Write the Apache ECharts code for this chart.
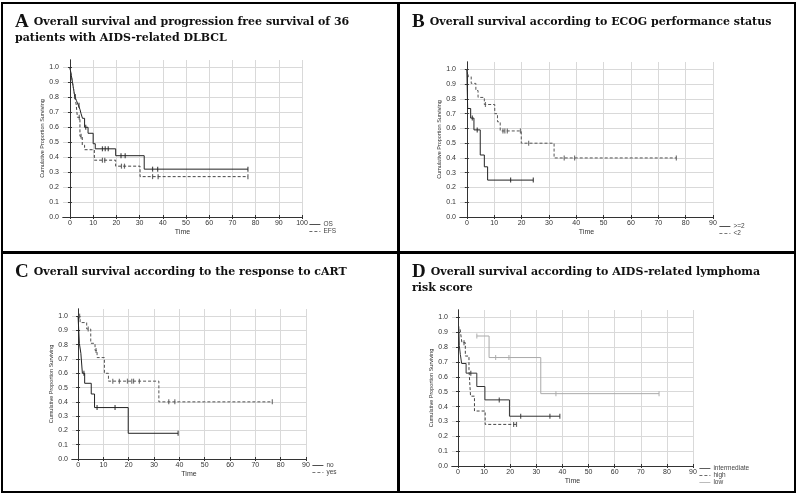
<!DOCTYPE html>
<html>
<head>
<meta charset="utf-8">
<script src="https://cdn.jsdelivr.net/npm/echarts@6/dist/echarts.min.js"></script>
<style>
html, body { margin: 0; padding: 0; background: #fff; }
#chart { width: 800px; height: 499px; }
</style>
</head>
<body>
<div id="chart"></div>
<script>
// tick labels
const xTicks100 = [0, 10, 20, 30, 40, 50, 60, 70, 80, 90, 100]
const xTicks90 = [0, 10, 20, 30, 40, 50, 60, 70, 80, 90]
const yTicks = [0, 0.1, 0.2, 0.3, 0.4, 0.5, 0.6, 0.7, 0.8, 0.9, 1.0]

// A - OS / EFS
const osTime = [0, 0.3, 0.6, 0.9, 1.2, 1.5, 1.8, 2.1, 2.8, 3.6, 4.3, 4.8, 5.4, 6.3, 7.8, 10.0, 10.9, 19.7, 32.0, 76.7]
const osSurv = [1.0, 0.972, 0.944, 0.917, 0.889, 0.861, 0.833, 0.806, 0.778, 0.748, 0.72, 0.69, 0.66, 0.60, 0.56, 0.49, 0.456, 0.41, 0.32, 0.32]
const osCens = [2.2, 3.9, 6.8, 14.0, 15.2, 16.5, 22.0, 23.8, 35.6, 37.8, 76.7]
const efsTime = [0, 0.3, 0.6, 0.9, 1.2, 1.5, 1.8, 2.1, 2.7, 3.2, 4.3, 5.3, 6.3, 10.5, 19.7, 30.2, 76.7]
const efsSurv = [1.0, 0.972, 0.944, 0.917, 0.889, 0.861, 0.833, 0.806, 0.75, 0.667, 0.54, 0.48, 0.45, 0.38, 0.34, 0.27, 0.27]
const efsCens = [2.2, 4.0, 4.8, 14.0, 15.0, 22.2, 23.5, 35.6, 38.0, 76.7]

// B - ECOG
const ge2Time = [0, 0.3, 1.4, 2.6, 4.9, 6.4, 7.6, 24.3]
const ge2Surv = [1.0, 0.735, 0.67, 0.59, 0.42, 0.34, 0.25, 0.25]
const ge2Cens = [2.0, 3.8, 16.0, 24.3]
const lt2Time = [0, 0.6, 1.6, 3.3, 4.1, 6.4, 10.2, 11.2, 12.2, 19.9, 31.9, 76.6]
const lt2Surv = [1.0, 0.95, 0.905, 0.857, 0.81, 0.762, 0.70, 0.645, 0.583, 0.50, 0.40, 0.40]
const lt2Cens = [6.8, 13.2, 13.9, 14.8, 19.6, 22.6, 35.6, 39.4, 76.6]

// C - cART response
const noTime = [0, 0.5, 1.1, 1.7, 2.6, 5.2, 6.5, 19.8, 39.5]
const noSurv = [1.0, 0.81, 0.74, 0.60, 0.53, 0.455, 0.36, 0.18, 0.18]
const noCens = [2.3, 7.5, 14.6, 39.5]
const yesTime = [0, 0.8, 3.4, 5.0, 6.7, 7.5, 10.4, 12.0, 31.9, 76.7]
const yesSurv = [1.0, 0.955, 0.91, 0.81, 0.76, 0.71, 0.60, 0.545, 0.40, 0.40]
const yesCens = [0.6, 4.0, 7.1, 13.7, 16.3, 19.5, 21.2, 21.9, 24.2, 35.8, 38.2, 76.7]

// D - risk score
const intTime = [0.3, 0.5, 0.9, 1.4, 3.1, 7.2, 10.3, 19.7, 39.0]
const intSurv = [0.94, 0.81, 0.75, 0.69, 0.625, 0.535, 0.445, 0.335, 0.335]
const intCens = [4.9, 15.8, 24.0, 35.2, 39.0]
const highTime = [0.8, 1.5, 2.8, 4.2, 4.8, 6.3, 10.4, 22.4]
const highSurv = [0.92, 0.83, 0.74, 0.65, 0.47, 0.37, 0.28, 0.28]
const highCens = [2.3, 21.3, 22.4]
const lowTime = [7.2, 11.9, 31.7, 77.0]
const lowSurv = [0.875, 0.73, 0.487, 0.487]
const lowCens = [7.2, 14.4, 19.5, 37.5, 77.0]

const panels = [
  {
    grid: { left: 63, top: 60, width: 239, height: 157 }, xMin: -3, xMax: 100, xTicks: xTicks100,
    legend: { left: 309, top: 221 },
    curves: [
      { name: 'OS', t: osTime, s: osSurv, c: osCens, color: '#222', dash: false },
      { name: 'EFS', t: efsTime, s: efsSurv, c: efsCens, color: '#444', dash: true }
    ]
  },
  {
    grid: { left: 460, top: 62, width: 253, height: 155 }, xMin: -2.5, xMax: 90, xTicks: xTicks90,
    legend: { left: 719, top: 223 },
    curves: [
      { name: '>=2', t: ge2Time, s: ge2Surv, c: ge2Cens, color: '#222', dash: false },
      { name: '<2', t: lt2Time, s: lt2Surv, c: lt2Cens, color: '#555', dash: true }
    ]
  },
  {
    grid: { left: 72, top: 309, width: 234, height: 150 }, xMin: -2.4, xMax: 90, xTicks: xTicks90,
    legend: { left: 312, top: 462 },
    curves: [
      { name: 'no', t: noTime, s: noSurv, c: noCens, color: '#222', dash: false },
      { name: 'yes', t: yesTime, s: yesSurv, c: yesCens, color: '#555', dash: true }
    ]
  },
  {
    grid: { left: 452, top: 310, width: 241, height: 156 }, xMin: -2.3, xMax: 90, xTicks: xTicks90,
    legend: { left: 699, top: 465 },
    curves: [
      { name: 'intermediate', t: intTime, s: intSurv, c: intCens, color: '#333', dash: false },
      { name: 'high', t: highTime, s: highSurv, c: highCens, color: '#444', dash: true },
      { name: 'low', t: lowTime, s: lowSurv, c: lowCens, color: '#aaa', dash: false }
    ]
  }
]

const titles = [
  { left: 15, top: 13, text: '{a|A} {b|Overall survival and progression free survival of 36}\n{b|patients with AIDS-related DLBCL}' },
  { left: 412, top: 13, text: '{a|B} {b|Overall survival according to ECOG performance status}' },
  { left: 15, top: 263, text: '{a|C} {b|Overall survival according to the response to cART}' },
  { left: 412, top: 263, text: '{a|D} {b|Overall survival according to AIDS-related lymphoma}\n{b|risk score}' }
]

function stepData(t, s) {
  return t.map((v, i) => [v, s[i]])
}
// survival at censor time
function censorData(c, t, s) {
  return c.map(v => {
    let k = 0
    for (let i = 0; i < t.length; i++) if (t[i] <= v + 1e-9) k = i
    return [v, s[k]]
  })
}

const labelFont = { fontFamily: 'Liberation Sans', fontSize: 7, color: '#333' }
const option = {
  animation: false,
  backgroundColor: '#fff',
  title: titles.map(t => ({
    text: t.text, left: t.left, top: t.top, padding: 0,
    textStyle: {
      rich: {
        a: { fontFamily: 'Liberation Serif', fontSize: 19, fontWeight: 'bold', color: '#111', lineHeight: 15 },
        b: { fontFamily: 'DejaVu Serif', fontSize: 11, fontWeight: 'bold', color: '#111', lineHeight: 15 }
      }
    }
  })),
  grid: panels.map(p => p.grid),
  legend: panels.map(p => ({
    orient: 'vertical', left: p.legend.left, top: p.legend.top, padding: 0,
    itemWidth: 11, itemHeight: 6, itemGap: 0,
    itemStyle: { opacity: 0, borderWidth: 0 },
    lineStyle: { width: 0.8 },
    data: p.curves.map(c => c.name),
    textStyle: { fontFamily: 'Liberation Sans', fontSize: 6.5, color: '#444', padding: [0, 0, 0, -2] }
  })),
  xAxis: [],
  yAxis: [],
  series: []
}

panels.forEach((p, i) => {
  option.xAxis.push({
    type: 'value', gridIndex: i, min: p.xMin, max: p.xMax, position: 'bottom',
    name: 'Time', nameLocation: 'middle', nameGap: 12,
    nameTextStyle: labelFont,
    axisLine: { show: true, lineStyle: { color: '#333', width: 1 } },
    axisTick: { show: true, inside: true, length: 2, customValues: p.xTicks, lineStyle: { color: '#333' } },
    axisLabel: { ...labelFont, margin: 3, customValues: p.xTicks },
    splitLine: { show: true, lineStyle: { color: '#d9d9d9', width: 1 } }
  })
  option.xAxis.push({
    type: 'value', gridIndex: i, min: p.xMin, max: p.xMax, position: 'top',
    axisLine: { show: true, lineStyle: { color: '#333', width: 1 } },
    axisTick: { show: true, inside: true, length: 2, customValues: p.xTicks, lineStyle: { color: '#333' } },
    axisLabel: { show: false },
    splitLine: { show: false }
  })
  option.yAxis.push({
    type: 'value', gridIndex: i, min: 0, max: 1.05, position: 'left',
    name: 'Cumulative Proportion Surviving', nameLocation: 'middle', nameGap: 18,
    nameTextStyle: { fontFamily: 'Liberation Sans', fontSize: 5.5, color: '#333' },
    axisLine: { show: true, lineStyle: { color: '#333', width: 1 } },
    axisTick: { show: true, inside: true, length: 2, customValues: yTicks, lineStyle: { color: '#333' } },
    axisLabel: { ...labelFont, margin: 4, customValues: yTicks, formatter: v => v.toFixed(1) },
    splitLine: { show: true, lineStyle: { color: '#d9d9d9', width: 1 } }
  })
  option.yAxis.push({
    type: 'value', gridIndex: i, min: 0, max: 1.05, position: 'right',
    axisLine: { show: true, lineStyle: { color: '#333', width: 1 } },
    axisTick: { show: true, inside: true, length: 2, customValues: yTicks, lineStyle: { color: '#333' } },
    axisLabel: { show: false },
    splitLine: { show: false }
  })
  p.curves.forEach(c => {
    option.series.push({
      name: c.name, type: 'line', step: 'end', xAxisIndex: 2 * i, yAxisIndex: 2 * i,
      symbol: 'none',
      lineStyle: { color: c.color, width: 1, type: c.dash ? [3, 2] : 'solid' },
      itemStyle: { color: c.color },
      data: stepData(c.t, c.s)
    })
    option.series.push({
      name: c.name + ' censored', type: 'scatter', xAxisIndex: 2 * i, yAxisIndex: 2 * i,
      symbol: 'rect', symbolSize: [1.2, 5],
      itemStyle: { color: c.color },
      data: censorData(c.c, c.t, c.s)
    })
  })
})

option.graphic = [
  { type: 'rect', shape: { x: 2, y: 3, width: 793, height: 489 }, style: { fill: 'none', stroke: '#000', lineWidth: 2 } },
  { type: 'line', shape: { x1: 398.5, y1: 3, x2: 398.5, y2: 492 }, style: { stroke: '#000', lineWidth: 3 } },
  { type: 'line', shape: { x1: 2, y1: 252.5, x2: 795, y2: 252.5 }, style: { stroke: '#000', lineWidth: 3 } }
]

const chart = echarts.init(document.getElementById('chart'))
chart.setOption(option)
</script>
</body>
</html>
